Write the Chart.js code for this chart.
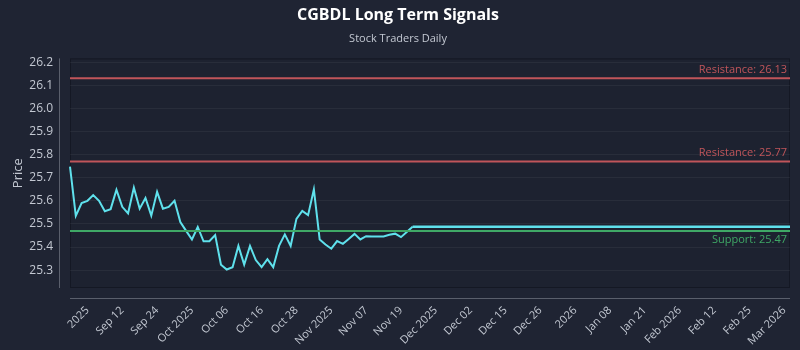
<!DOCTYPE html>
<html lang="en">
    <head>
        <meta charset="utf-8" />
        <title>CGBDL Long Term Signals</title>
        <style>
            html, body { margin: 0; padding: 0; background: #1f2433; }
            #wrap { width: 800px; height: 350px; }
        </style>
    </head>
    <body>
        <div id="wrap"><canvas id="grafico"></canvas></div>

        <script src="https://cdn.jsdelivr.net/npm/chart.js@4.4.1/dist/chart.umd.min.js"></script>

        <script>
            // precios (cierre)
            const precios = [
                25.748, 25.535, 25.59, 25.6, 25.625, 25.6, 25.555, 25.564, 25.648, 25.574,
                25.546, 25.657, 25.566, 25.612, 25.536, 25.639, 25.566, 25.574, 25.6, 25.508,
                25.47, 25.433, 25.487, 25.425, 25.425, 25.452, 25.324, 25.303, 25.313, 25.405,
                25.324, 25.405, 25.344, 25.313, 25.348, 25.313, 25.405, 25.455, 25.405, 25.522,
                25.556, 25.538, 25.649, 25.433, 25.411, 25.393, 25.426, 25.414, 25.435, 25.457,
                25.433, 25.447, 25.446, 25.446, 25.446, 25.453, 25.458, 25.443, 25.465, 25.488
            ];
            const proyeccion = 25.488;
            const totalPuntos = 125;
            const resistencias = [26.13, 25.77];
            const soportes = [25.47];
            const etiquetasX = [
                "2025", "Sep 12", "Sep 24", "Oct 2025", "Oct 06", "Oct 16", "Oct 28",
                "Nov 2025", "Nov 07", "Nov 19", "Dec 2025", "Dec 02", "Dec 15", "Dec 26",
                "2026", "Jan 08", "Jan 21", "Feb 2026", "Feb 12", "Feb 25", "Mar 2026"
            ];
            const primerTick = 3;
            const pasoTick = 6;

            const fuente = "'Open Sans', 'DejaVu Sans', sans-serif";
            const rojo = "#c0555a";
            const verde = "#3fa866";
            const cian = "#5fe1ec";
            const textoGris = "#c3c8d2";

            // etiquetas del eje x (solo algunas visibles)
            const labels = [];
            for (let i = 0; i < totalPuntos; i++) {
                const k = (i - primerTick) / pasoTick;
                labels.push(Number.isInteger(k) && k >= 0 && k < etiquetasX.length ? etiquetasX[k] : "");
            }

            const serieReal = labels.map((l, i) => (i < precios.length ? precios[i] : null));
            const serieProy = labels.map((l, i) => (i >= precios.length - 1 ? proyeccion : null));

            function nivel(valor) {
                return labels.map(() => valor);
            }

            const datasets = [];
            resistencias.forEach((r) => {
                datasets.push({ data: nivel(r), borderColor: rojo, borderWidth: 2, pointRadius: 0, tipo: "Resistance", valor: r });
            });
            soportes.forEach((s) => {
                datasets.push({ data: nivel(s), borderColor: verde, borderWidth: 2, pointRadius: 0, tipo: "Support", valor: s });
            });
            datasets.push({ data: serieReal, borderColor: cian, borderWidth: 2, pointRadius: 0, tension: 0 });
            datasets.push({ data: serieProy, borderColor: cian, borderWidth: 2.5, pointRadius: 0 });
            datasets.push({ data: serieProy, borderColor: "rgba(225,250,250,0.6)", borderWidth: 1, borderDash: [2, 2], pointRadius: 0 });

            // fondo, marco, ejes desplazados y textos de niveles
            const extras = {
                id: "extras",
                beforeDraw(chart) {
                    const { ctx, chartArea: a } = chart;
                    ctx.save();
                    ctx.fillStyle = "#1f2433";
                    ctx.fillRect(0, 0, chart.width, chart.height);
                    ctx.fillStyle = "#1d2230";
                    ctx.fillRect(a.left, a.top, a.right - a.left, a.bottom - a.top);
                    ctx.strokeStyle = "#141824";
                    ctx.lineWidth = 1;
                    ctx.strokeRect(a.left + 0.5, a.top + 0.5, a.right - a.left - 1, a.bottom - a.top - 1);
                    ctx.strokeStyle = "rgba(200,205,215,0.35)";
                    ctx.beginPath();
                    ctx.moveTo(a.left - 10.5, a.top);
                    ctx.lineTo(a.left - 10.5, a.bottom);
                    ctx.moveTo(a.left, a.bottom + 10.5);
                    ctx.lineTo(a.right, a.bottom + 10.5);
                    ctx.stroke();
                    ctx.restore();
                },
                afterDatasetsDraw(chart) {
                    const { ctx, chartArea: a } = chart;
                    const y = chart.scales.y;
                    ctx.save();
                    ctx.font = "11px " + fuente;
                    ctx.textAlign = "right";
                    chart.data.datasets.forEach((ds) => {
                        if (!ds.tipo) return;
                        const py = y.getPixelForValue(ds.valor);
                        if (ds.tipo === "Resistance") {
                            ctx.fillStyle = rojo;
                            ctx.textBaseline = "bottom";
                            ctx.fillText("Resistance: " + ds.valor.toFixed(2), a.right - 3, py - 3);
                        } else {
                            ctx.fillStyle = verde;
                            ctx.textBaseline = "top";
                            ctx.fillText("Support: " + ds.valor.toFixed(2), a.right - 3, py + 3);
                        }
                    });
                    ctx.restore();
                },
            };

            new Chart(document.getElementById("grafico"), {
                type: "line",
                data: { labels: labels, datasets: datasets },
                options: {
                    responsive: true,
                    maintainAspectRatio: false,
                    animation: false,
                    layout: { padding: { left: 6, right: 10, bottom: 2 } },
                    plugins: {
                        legend: { display: false },
                        tooltip: { enabled: false },
                        title: {
                            display: true,
                            text: "CGBDL Long Term Signals",
                            color: "#ffffff",
                            font: { family: fuente, size: 16, weight: "bold" },
                            padding: { top: 6, bottom: 7 },
                        },
                        subtitle: {
                            display: true,
                            text: "Stock Traders Daily",
                            color: textoGris,
                            font: { family: fuente, size: 11 },
                            padding: { bottom: 13 },
                        },
                    },
                    scales: {
                        x: {
                            grid: { display: false },
                            border: { display: false },
                            afterFit(s) {
                                s.height = 60;
                                s.paddingLeft = 0;
                                s.paddingRight = 0;
                            },
                            ticks: {
                                autoSkip: false,
                                maxRotation: 45,
                                minRotation: 45,
                                padding: 8,
                                color: textoGris,
                                font: { family: fuente, size: 11 },
                            },
                        },
                        y: {
                            min: 25.223,
                            max: 26.216,
                            border: { display: false },
                            grid: { color: "rgba(255,255,255,0.05)", drawTicks: false },
                            afterFit(s) {
                                s.width = 64;
                            },
                            title: {
                                display: true,
                                text: "Price",
                                color: textoGris,
                                font: { family: fuente, size: 13 },
                                padding: { bottom: 6 },
                            },
                            ticks: {
                                stepSize: 0.1,
                                includeBounds: false,
                                padding: 17,
                                color: textoGris,
                                font: { family: fuente, size: 12 },
                                callback: (v) => v.toFixed(1),
                            },
                        },
                    },
                },
                plugins: [extras],
            });
        </script>
    </body>
</html>
